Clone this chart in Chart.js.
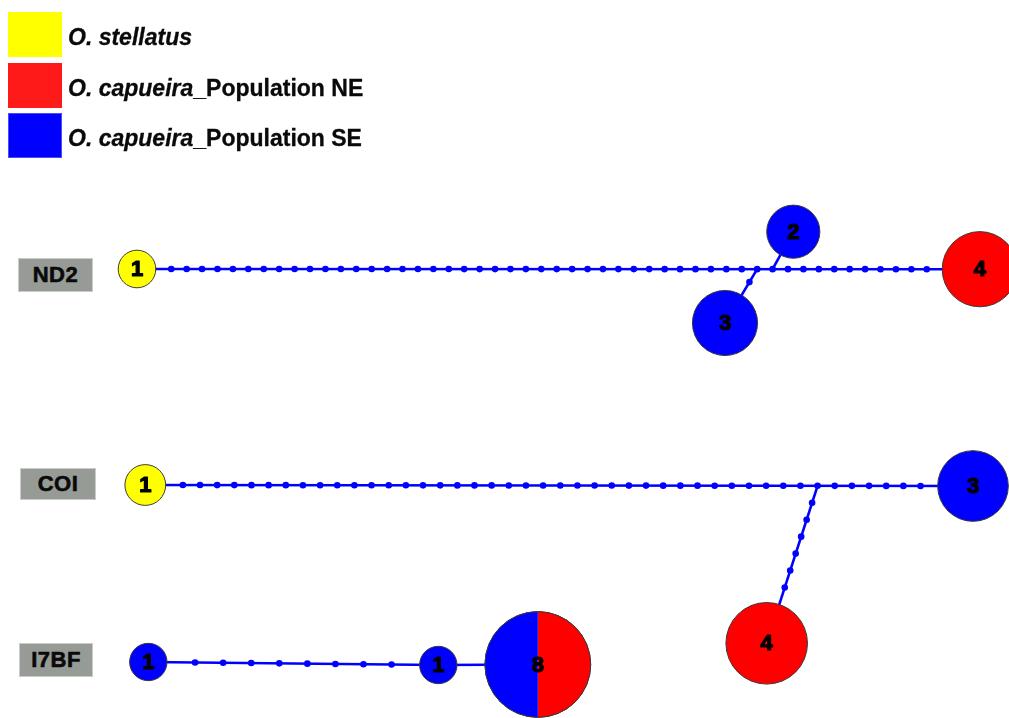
<!DOCTYPE html>
<html>
<head>
<meta charset="utf-8">
<title>Haplotype networks – ND2, COI, I7BF</title>
<script src="https://cdn.jsdelivr.net/npm/chart.js@4.4.1/dist/chart.umd.min.js"></script>
<style>
  html, body { margin: 0; padding: 0; background: #ffffff; }
  #wrap { position: relative; width: 1009px; height: 718px; overflow: hidden;
          font-family: "Liberation Sans", Arial, Helvetica, sans-serif; }
  #net { position: absolute; left: 0; top: 0; }
  .key-swatch { position: absolute; left: 8px; width: 54px; height: 45px; box-sizing: border-box; }
  .key-text { position: absolute; left: 68px; font-size: 23px; line-height: 26px; font-weight: bold;
              color: #0a0a0a; white-space: nowrap; -webkit-text-stroke: 0.3px #0a0a0a; }
  .gene-box { position: absolute; background: #979b96; color: #0a0a0a; font-weight: bold; font-size: 22px;
              display: flex; align-items: center; justify-content: center; box-sizing: border-box;
              border: 1px solid #c9ccc8; -webkit-text-stroke: 0.6px #0a0a0a; letter-spacing: 0.5px; }
</style>
</head>
<body>
<div id="wrap">
  <canvas id="net" width="1009" height="718"></canvas>
</div>
<script>
// ---- groups ----
const speciesNames = ['O. stellatus', 'O. capueira', 'O. capueira'];
const populationTags = ['', '_Population NE', '_Population SE'];

// ---- markers ----
const genes = ['ND2', 'COI', 'I7BF'];

// ---- haplotypes: marker and number of individuals per group ----
const hapGene      = ['ND2', 'ND2', 'ND2', 'ND2', 'COI', 'COI', 'COI', 'I7BF', 'I7BF', 'I7BF'];
const hapStellatus = [1, 0, 0, 0,   1, 0, 0,   0, 0, 0];
const hapNE        = [0, 0, 0, 4,   0, 0, 4,   0, 0, 4];
const hapSE        = [0, 2, 3, 0,   0, 3, 0,   1, 1, 4];

// ---- links: endpoints and number of intermediate (missing) steps ----
// an endpoint is a haplotype index, or [link, step] for a step on an earlier link
const linkFrom  = [0, [0, 38], [0, 39], 4, [3, 37], 7, 8];
const linkTo    = [3, 2, 1, 5, 6, 8, 9];
const linkSteps = [50, 1, 0, 44, 6, 8, 0];

// ---- drawing layout (canvas units) ----
const layout = {
  nodeX: [137, 793.3, 725, 979.8, 145.3, 973, 766.7, 148.3, 438.3, 537.8],
  nodeY: [269, 231.7, 323, 269.2, 485, 486, 643.3, 662, 665, 664.5],
  unitRadius: { ND2: 18.8, COI: 20.4, I7BF: 18.7 },
  geneBox: { ND2: [18, 258, 75, 34], COI: [20, 468, 76, 32], I7BF: [19, 643, 74, 34] },
  keyTop: [12, 63, 113],
  keyTextTop: [24, 75, 125]
};

const groupColors = ['#ffff00', '#ff0000', '#0000ff'];
const keyColors = ['#ffff00', '#ff1a1a', '#0000ff'];
const linkColor = '#0000ff';

// ---- key ----
const wrap = document.getElementById('wrap');
speciesNames.forEach((sp, i) => {
  const sw = document.createElement('div');
  sw.className = 'key-swatch';
  sw.style.top = layout.keyTop[i] + 'px';
  sw.style.background = keyColors[i];
  if (i === 2) sw.style.border = '1px solid #4a4aff';
  wrap.appendChild(sw);
  const tx = document.createElement('div');
  tx.className = 'key-text';
  tx.style.top = layout.keyTextTop[i] + 'px';
  const it = document.createElement('i');
  it.textContent = sp;
  tx.appendChild(it);
  tx.appendChild(document.createTextNode(populationTags[i]));
  wrap.appendChild(tx);
});

// ---- marker labels ----
genes.forEach(g => {
  const [x, y, w, h] = layout.geneBox[g];
  const b = document.createElement('div');
  b.className = 'gene-box';
  Object.assign(b.style, { left: x + 'px', top: y + 'px', width: w + 'px', height: h + 'px' });
  b.textContent = g;
  wrap.appendChild(b);
});

// ---- network geometry ----
const hapTotal = hapGene.map((g, i) => hapStellatus[i] + hapNE[i] + hapSE[i]);
const hapRadius = hapGene.map((g, i) => layout.unitRadius[g] * Math.sqrt(hapTotal[i]));
const linkStepPoints = [];

function endpoint(e) {
  if (Array.isArray(e)) {
    const p = linkStepPoints[e[0]][e[1]];
    return { x: p.x, y: p.y, r: 0 };
  }
  return { x: layout.nodeX[e], y: layout.nodeY[e], r: hapRadius[e] };
}

const linkEnds = [];
linkSteps.forEach((n, i) => {
  const a = endpoint(linkFrom[i]);
  const b = endpoint(linkTo[i]);
  const dx = b.x - a.x, dy = b.y - a.y;
  const len = Math.hypot(dx, dy);
  const ux = dx / len, uy = dy / len;
  const sx = a.x + ux * a.r, sy = a.y + uy * a.r;
  const ex = b.x - ux * b.r, ey = b.y - uy * b.r;
  const pts = [];
  for (let k = 1; k <= n; k++) {
    const t = k / (n + 1);
    pts.push({ x: sx + (ex - sx) * t, y: sy + (ey - sy) * t });
  }
  linkStepPoints.push(pts);
  linkEnds.push([{ x: a.x, y: a.y }, { x: b.x, y: b.y }]);
});

// ---- datasets ----
const datasets = [];

linkEnds.forEach(seg => {
  datasets.push({
    type: 'scatter',
    data: seg,
    showLine: true,
    borderColor: linkColor,
    borderWidth: 2.6,
    pointRadius: 0,
    order: 3,
    clip: false
  });
});

datasets.push({
  type: 'scatter',
  data: linkStepPoints.flat(),
  showLine: false,
  pointRadius: 3.3,
  pointBackgroundColor: linkColor,
  pointBorderWidth: 0,
  order: 2,
  clip: false
});

const mixed = hapGene.map((g, i) =>
  [hapStellatus[i], hapNE[i], hapSE[i]].filter(v => v > 0).length > 1);

datasets.push({
  type: 'bubble',
  label: 'haplotypes',
  data: hapGene.map((g, i) => ({ x: layout.nodeX[i], y: layout.nodeY[i], r: hapRadius[i] })),
  backgroundColor: hapGene.map((g, i) => {
    if (mixed[i]) return 'rgba(0,0,0,0)';
    const counts = [hapStellatus[i], hapNE[i], hapSE[i]];
    return groupColors[counts.findIndex(v => v > 0)];
  }),
  borderColor: '#3a3a3a',
  borderWidth: 1,
  order: 1,
  clip: false
});

// pie slices for shared haplotypes, and the sample-size labels
const hapPlugin = {
  id: 'hapPlugin',
  afterDatasetsDraw(chart) {
    const meta = chart.getDatasetMeta(chart.data.datasets.length - 1);
    const ctx = chart.ctx;
    meta.data.forEach((el, i) => {
      const r = el.options.radius;
      if (mixed[i]) {
        const counts = [hapStellatus[i], hapNE[i], hapSE[i]];
        let start = -Math.PI / 2;
        counts.forEach((c, g) => {
          if (!c) return;
          const end = start + 2 * Math.PI * c / hapTotal[i];
          ctx.beginPath();
          ctx.moveTo(el.x, el.y);
          ctx.arc(el.x, el.y, r, start, end);
          ctx.closePath();
          ctx.fillStyle = groupColors[g];
          ctx.fill();
          start = end;
        });
        ctx.beginPath();
        ctx.arc(el.x, el.y, r, 0, 2 * Math.PI);
        ctx.strokeStyle = '#3a3a3a';
        ctx.lineWidth = 1;
        ctx.stroke();
      }
      ctx.save();
      ctx.fillStyle = '#000';
      ctx.strokeStyle = '#000';
      ctx.lineWidth = 1.2;
      ctx.lineJoin = 'round';
      ctx.font = 'bold 22px "Liberation Sans", Arial, sans-serif';
      ctx.textAlign = 'center';
      ctx.textBaseline = 'middle';
      ctx.fillText(String(hapTotal[i]), el.x, el.y + 1);
      ctx.strokeText(String(hapTotal[i]), el.x, el.y + 1);
      ctx.restore();
    });
  }
};

new Chart(document.getElementById('net'), {
  data: { datasets },
  plugins: [hapPlugin],
  options: {
    responsive: false,
    devicePixelRatio: 1,
    animation: false,
    events: [],
    layout: { padding: 0, autoPadding: false },
    plugins: { legend: { display: false }, tooltip: { enabled: false } },
    scales: {
      x: { type: 'linear', min: 0, max: 1009, display: false },
      y: { type: 'linear', min: 0, max: 718, reverse: true, display: false }
    }
  }
});
</script>
</body>
</html>
